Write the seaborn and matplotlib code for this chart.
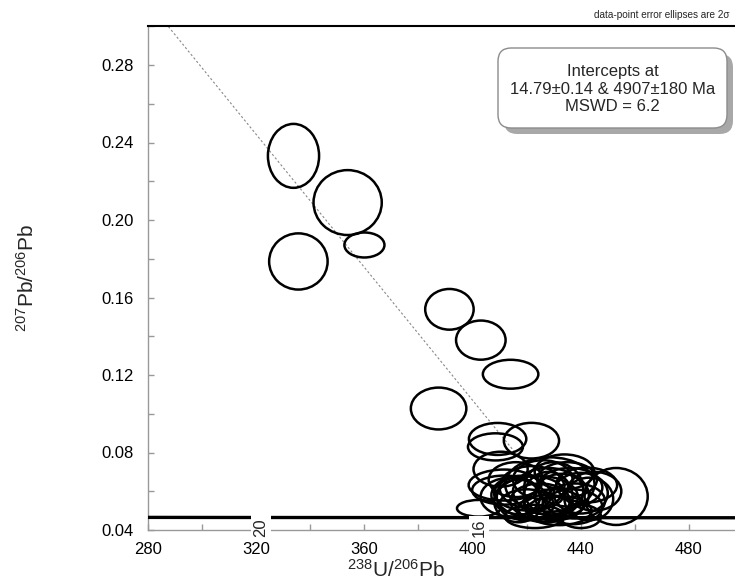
import numpy as np
import matplotlib
matplotlib.use("Agg")
import matplotlib.pyplot as plt
import seaborn as sns
from matplotlib.patches import Ellipse, FancyBboxPatch
from matplotlib.ticker import MultipleLocator

# 2-sigma error ellipses: centre 238U/206Pb, centre 207Pb/206Pb, full width, full height
ell_x = [333.9, 353.9, 360.1, 335.7, 391.5, 403.1, 414.1, 387.5, 409.3, 408.5,
         421.8, 453.1, 402.3, 410.4, 428.6, 411.6, 411.9, 418.0, 422.0, 425.0,
         428.0, 430.0, 433.0, 436.0, 438.0, 426.0, 420.0, 432.0, 440.0, 428.0,
         421.0, 435.0, 442.2, 416.0, 430.0, 427.0, 437.0, 417.0, 443.0, 434.0,
         423.0, 440.0, 445.0, 424.0, 414.0]
ell_y = [0.2331, 0.2090, 0.1871, 0.1786, 0.1539, 0.1380, 0.1204, 0.1027, 0.0870, 0.0829,
         0.0861, 0.0573, 0.0512, 0.0714, 0.0635, 0.0632, 0.0606, 0.0580, 0.0620, 0.0550,
         0.0600, 0.0530, 0.0580, 0.0620, 0.0550, 0.0660, 0.0530, 0.0500, 0.0590, 0.0570,
         0.0590, 0.0660, 0.0632, 0.0660, 0.0610, 0.0510, 0.0520, 0.0550, 0.0560, 0.0700,
         0.0470, 0.0470, 0.0600, 0.0570, 0.0570]
ell_w = [18.9, 25.2, 14.8, 21.6, 17.9, 18.3, 20.5, 20.5, 21.2, 20.3,
         20.4, 23.3, 16.0, 20.0, 33.0, 26.0, 24.0, 22.0, 24.0, 22.0,
         26.0, 22.0, 20.0, 24.0, 22.0, 22.0, 20.0, 24.0, 20.0, 18.0,
         26.0, 22.0, 22.5, 20.0, 22.0, 20.0, 22.0, 18.0, 18.0, 22.0,
         22.0, 15.0, 20.0, 30.0, 22.0]
ell_h = [0.0330, 0.0335, 0.0129, 0.0290, 0.0210, 0.0202, 0.0149, 0.0216, 0.0165, 0.0140,
         0.0184, 0.0294, 0.0086, 0.0180, 0.0280, 0.0160, 0.0150, 0.0200, 0.0220, 0.0180,
         0.0240, 0.0160, 0.0220, 0.0200, 0.0180, 0.0200, 0.0160, 0.0150, 0.0210, 0.0260,
         0.0180, 0.0180, 0.0180, 0.0180, 0.0280, 0.0140, 0.0180, 0.0220, 0.0220, 0.0180,
         0.0120, 0.0120, 0.0200, 0.0220, 0.0200]

# discordia intercepts (Ma) and labelled concordia ages (Ma)
lower_age = 14.79
upper_age = 4907.0
label_ages = [20, 16]
curve_ages = np.linspace(12, 24, 200)

L238 = 1.55125e-10
L235 = 9.8485e-10
U_RATIO = 137.818


def tera_wasserburg(age_ma):
    t = np.asarray(age_ma, dtype=float) * 1e6
    e8 = np.expm1(L238 * t)
    e5 = np.expm1(L235 * t)
    return 1.0 / e8, e5 / e8 / U_RATIO


sns.set_theme(style="white")
plt.rcParams["font.family"] = ["Liberation Sans", "DejaVu Sans"]
plt.rcParams["mathtext.fontset"] = "custom"
plt.rcParams["mathtext.rm"] = "Liberation Sans"
plt.rcParams["mathtext.it"] = "Liberation Sans:italic"

fig = plt.figure(figsize=(7.35, 5.84), dpi=100)
ax = fig.add_axes([147.6 / 735, 1 - 530 / 584, 1 - 147.6 / 735, (530 - 26.25) / 584])

# concordia curve
cx, cy = tera_wasserburg(curve_ages)
sns.lineplot(x=cx, y=cy, sort=False, estimator=None, color="black", lw=2.4, ax=ax, zorder=3)

# discordia between the two intercepts
dx, dy = tera_wasserburg([upper_age, lower_age])
sns.lineplot(x=dx, y=dy, sort=False, estimator=None, color="#888888", lw=0.8,
             linestyle=(0, (2, 2)), ax=ax, zorder=2)

for x, y, w, h in zip(ell_x, ell_y, ell_w, ell_h):
    ax.add_patch(Ellipse((x, y), w, h, fill=False, ec="black", lw=1.8, zorder=4))

# concordia age labels
lx, ly = tera_wasserburg(label_ages)
for age, x, y in zip(label_ages, lx, ly):
    ax.annotate(str(age), (x, y), xytext=(0, -7), textcoords="offset points",
                rotation=90, ha="center", va="center", fontsize=12, clip_on=False,
                zorder=10, bbox=dict(boxstyle="square,pad=0.15", fc="white", ec="none"))

ax.set_xlim(280, 497)
ax.set_ylim(0.04, 0.30)
ax.xaxis.set_major_locator(MultipleLocator(40))
ax.xaxis.set_minor_locator(MultipleLocator(20))
ax.yaxis.set_major_locator(MultipleLocator(0.04))
ax.yaxis.set_minor_locator(MultipleLocator(0.02))
ax.yaxis.set_major_formatter(lambda v, p: f"{v:.2f}")
ax.tick_params(which="both", direction="in", color="#999999", width=1, length=4,
               labelsize=12, labelcolor="black", bottom=True, left=True)
ax.tick_params(axis="x", pad=9)
ax.tick_params(axis="y", pad=10)

for side in ["left", "bottom"]:
    ax.spines[side].set_color("#999999")
    ax.spines[side].set_linewidth(1)
ax.spines["top"].set_color("black")
ax.spines["top"].set_linewidth(1.5)
ax.spines["right"].set_visible(False)

ax.set_xlabel(r"$^{238}$U/$^{206}$Pb", fontsize=15)
ax.set_ylabel(r"$^{207}$Pb/$^{206}$Pb", fontsize=15)
ax.xaxis.set_label_coords((396 - 147.6) / 587.4, -0.058)
ax.yaxis.set_label_coords((38 - 147.6) / 587.4, 0.5)

fig.text(0.992, 1 - 15 / 584, "data-point error ellipses are 2σ",
         ha="right", va="center", fontsize=7.2)

# intercept box with drop shadow
bx, by, bw, bh = 498 / 735, 1 - 128 / 584, 229 / 735, 80 / 584
shadow = FancyBboxPatch((bx + 6 / 735, by - 6 / 584), bw, bh,
                        boxstyle="round,pad=0,rounding_size=0.018",
                        mutation_aspect=735 / 584, transform=fig.transFigure,
                        fc="#a8a8a8", ec="none", zorder=20)
box = FancyBboxPatch((bx, by), bw, bh, boxstyle="round,pad=0,rounding_size=0.018",
                     mutation_aspect=735 / 584, transform=fig.transFigure,
                     fc="white", ec="#8c8c8c", lw=1, zorder=21)
fig.patches.extend([shadow, box])
box_lines = ["Intercepts at", "14.79±0.14 & 4907±180 Ma", "MSWD = 6.2"]
for i, line in enumerate(box_lines):
    fig.text(612.5 / 735, 1 - (71.7 + 17.5 * i) / 584, line, ha="center", va="center",
             fontsize=12, zorder=22)

fig.savefig("out.png", dpi=100)
